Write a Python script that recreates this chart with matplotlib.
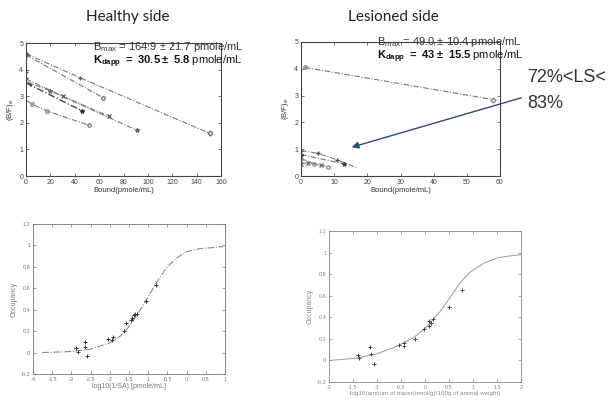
import matplotlib
matplotlib.use("Agg")
import matplotlib.pyplot as plt
import numpy as np

plt.rcParams["font.family"] = ["Liberation Sans", "DejaVu Sans"]
plt.rcParams["mathtext.fontset"] = "custom"
plt.rcParams["mathtext.rm"] = "Liberation Sans"
plt.rcParams["mathtext.bf"] = "Liberation Sans:bold"

# ===================== data =====================
# healthy side, Scatchard lines (bound, B/F)
h_a_x = [0, 44, 151]
h_a_y = [4.6, 3.7, 1.6]
h_b_x = [0, 2, 63]
h_b_y = [4.55, 4.5, 2.95]
h_c_x = [0, 20, 91]
h_c_y = [3.55, 3.2, 1.72]
h_d_x = [0, 30, 68]
h_d_y = [3.65, 3.0, 2.25]
h_e_x = [0, 46]
h_e_y = [3.5, 2.45]
h_f_x = [0, 5, 17, 52]
h_f_y = [2.85, 2.7, 2.45, 1.9]
h_pts_x = [0, 0, 3, 1]
h_pts_y = [3.9, 3.7, 3.45, 4.6]

# lesioned side, Scatchard lines
l_a_x = [1.2, 58]
l_a_y = [4.05, 2.85]
l_b_x = [0, 5, 11, 17]
l_b_y = [0.95, 0.85, 0.6, 0.3]
l_c_x = [0, 13]
l_c_y = [0.8, 0.45]
l_d_x = [0, 4, 8]
l_d_y = [0.65, 0.45, 0.35]
l_e_x = [0, 2, 6]
l_e_y = [0.45, 0.5, 0.4]

# occupancy, healthy side
occ_h_x = [-2.89, -2.83, -2.65, -2.64, -2.59, -2.05, -1.94, -1.92, -1.64,
           -1.57, -1.44, -1.41, -1.38, -1.35, -1.29, -1.05, -0.79]
occ_h_y = [0.04, 0.01, 0.10, 0.05, -0.03, 0.13, 0.12, 0.15, 0.20,
           0.28, 0.30, 0.32, 0.35, 0.36, 0.36, 0.48, 0.63]
fit_h_x = [-3.76, -3.0, -2.52, -2.0, -1.74, -1.53, -1.31, -1.05, -0.79,
           -0.53, -0.27, -0.01, 0.34, 0.69, 0.95]
fit_h_y = [0.0, 0.01, 0.03, 0.09, 0.15, 0.23, 0.34, 0.49, 0.65,
           0.79, 0.88, 0.94, 0.97, 0.98, 0.99]

# occupancy, lesioned side
occ_l_x = [-1.39, -1.38, -1.15, -1.13, -1.06, -0.54, -0.44, -0.44, -0.21,
           -0.03, 0.09, 0.09, 0.12, 0.17, 0.51, 0.78]
occ_l_y = [0.05, 0.02, 0.12, 0.06, -0.03, 0.14, 0.16, 0.13, 0.20,
           0.29, 0.32, 0.37, 0.35, 0.38, 0.50, 0.65]
fit_l_x = [-2.0, -1.43, -1.01, -0.59, -0.24, 0.03, 0.31, 0.52, 0.73,
           0.94, 1.22, 1.50, 1.78, 2.0]
fit_l_y = [0.0, 0.02, 0.06, 0.13, 0.21, 0.31, 0.45, 0.58, 0.72,
           0.82, 0.90, 0.95, 0.97, 0.98]
# ======================================================================

W, H = 612, 404
fig = plt.figure(figsize=(W / 100, H / 100), dpi=100)


def px_axes(left, right, top, bottom):
    return fig.add_axes([left / W, (H - bottom) / H, (right - left) / W, (bottom - top) / H])


def style(ax, lw=0.8, col="#444444", fs=5):
    for s in ax.spines.values():
        s.set_linewidth(lw)
        s.set_color(col)
    ax.tick_params(direction="in", length=2, width=0.5, colors=col,
                   labelsize=fs, top=True, right=True, pad=2)


line_kw = dict(color="#777777", lw=0.8, dashes=(5, 1.5, 1, 1.5))

# ---- top-left: healthy side Scatchard
ax1 = px_axes(26, 221, 43, 176)
ax1.plot(h_a_x, h_a_y, **line_kw)
ax1.plot(h_a_x[-1:], h_a_y[-1:], "D", mfc="none", mec="#777", ms=2.5)
ax1.plot(h_a_x[1:2], h_a_y[1:2], "+", color="#555", ms=3)
ax1.plot(h_b_x, h_b_y, **line_kw)
ax1.plot(h_b_x[::2], h_b_y[::2], "o", mfc="none", mec="#777", ms=2.5)
ax1.plot(h_c_x, h_c_y, **line_kw)
ax1.plot(h_c_x[1:], h_c_y[1:], "*", color="#666", ms=3)
ax1.plot(h_d_x, h_d_y, **line_kw)
ax1.plot(h_d_x[1:], h_d_y[1:], "x", color="#666", ms=2.5)
ax1.plot(h_e_x, h_e_y, color="#444", lw=1.0, dashes=(5, 1.5, 1, 1.5))
ax1.plot(h_e_x[-1:], h_e_y[-1:], "*", color="#333", ms=3)
ax1.plot(h_f_x, h_f_y, **line_kw)
ax1.plot(h_f_x[1:], h_f_y[1:], "o", mfc="none", mec="#888", ms=2.5)
ax1.plot(h_pts_x, h_pts_y, "+", color="#555", ms=3)
ax1.set_xlim(0, 160)
ax1.set_ylim(0, 5)
ax1.set_xticks(range(0, 161, 20))
ax1.set_yticks(range(0, 6))
style(ax1)
ax1.set_xlabel("Bound(pmole/mL)", fontsize=5.5, color="#333", labelpad=1)
ax1.set_ylabel("(B/F)$_e$", fontsize=5.5, color="#333", labelpad=2)

# ---- top-right: lesioned side Scatchard
ax2 = px_axes(301, 500, 42, 176)
ax2.plot(l_a_x, l_a_y, **line_kw)
ax2.plot(l_a_x[:1], l_a_y[:1], "o", mfc="none", mec="#888", ms=2.5)
ax2.plot(l_a_x[-1:], l_a_y[-1:], "D", mfc="none", mec="#888", ms=2.5)
ax2.plot(l_b_x, l_b_y, **line_kw)
ax2.plot(l_b_x[:3], l_b_y[:3], "+", color="#444", ms=3)
ax2.plot(l_c_x, l_c_y, **line_kw)
ax2.plot(l_c_x, l_c_y, "*", color="#444", ms=3)
ax2.plot(l_d_x, l_d_y, **line_kw)
ax2.plot(l_d_x, l_d_y, "o", mfc="none", mec="#999", ms=2.5)
ax2.plot(l_e_x, l_e_y, **line_kw)
ax2.plot(l_e_x, l_e_y, "x", color="#777", ms=2.5)
ax2.set_xlim(0, 60)
ax2.set_ylim(0, 5)
ax2.set_xticks(range(0, 61, 10))
ax2.set_yticks(range(0, 6))
style(ax2)
ax2.set_xlabel("Bound(pmole/mL)", fontsize=5.5, color="#333", labelpad=1)
ax2.set_ylabel("(B/F)$_e$", fontsize=5.5, color="#333", labelpad=2)

# ---- bottom-left: occupancy healthy
ax3 = px_axes(33, 225, 224, 374)
ax3.plot(fit_h_x, fit_h_y, color="#888", lw=0.8, dashes=(6, 1.5, 1, 1.5))
ax3.plot(occ_h_x, occ_h_y, "+", color="#333", ms=3, mew=0.7)
ax3.set_xlim(-4, 1)
ax3.set_ylim(-0.2, 1.2)
ax3.set_xticks(np.arange(-4, 1.01, 0.5))
ax3.set_xticklabels(["-4", "-3.5", "-3", "-2.5", "-2", "-1.5", "-1", "-0.5", "0", "0.5", "1"])
ax3.set_yticks(np.arange(-0.2, 1.21, 0.2))
ax3.set_yticklabels(["-0.2", "0", "0.2", "0.4", "0.6", "0.8", "1", "1.2"])
style(ax3, lw=0.6, col="#777777", fs=4)
ax3.set_xlabel("log10(1/SA) [pmole/mL]", fontsize=5, color="#777", labelpad=1)
ax3.set_ylabel("Occupancy", fontsize=5, color="#777", labelpad=2)

# ---- bottom-right: occupancy lesioned
ax4 = px_axes(329, 521, 231, 382)
ax4.plot(fit_l_x, fit_l_y, color="#999", lw=0.7)
ax4.plot(occ_l_x, occ_l_y, "+", color="#444", ms=3, mew=0.7)
ax4.set_xlim(-2, 2)
ax4.set_ylim(-0.2, 1.2)
ax4.set_xticks(np.arange(-2, 2.01, 0.5))
ax4.set_xticklabels(["-2", "-1.5", "-1", "-0.5", "0", "0.5", "1", "1.5", "2"])
ax4.set_yticks(np.arange(-0.2, 1.21, 0.2))
ax4.set_yticklabels(["-0.2", "0", "0.2", "0.4", "0.6", "0.8", "1", "1.2"])
style(ax4, lw=0.6, col="#888888", fs=4)
ax4.set_xlabel("log10(amount of tracer(nmol/g)/100g of animal weight)",
               fontsize=4.5, color="#888", labelpad=1)
ax4.set_ylabel("Occupancy", fontsize=5, color="#888", labelpad=2)

# ---- titles and annotations
fig.text(128 / W, 1 - 17 / H, "Healthy side", fontsize=11, family=["Lato", "DejaVu Sans"],
         ha="center", va="center", color="#222")
fig.text(393 / W, 1 - 17 / H, "Lesioned side", fontsize=11, family=["Lato", "DejaVu Sans"],
         ha="center", va="center", color="#222")

fig.text(93 / W, 1 - 47 / H, r"B$_{\rm max}$ = 164.9 ± 21.7 pmole/mL",
         fontsize=8, color="#333", va="center")
fig.text(93 / W, 1 - 62 / H, r"$\mathbf{K_{dapp}}$ $\mathbf{=\ 30.5\pm\ 5.8}$ pmole/mL",
         fontsize=8, color="#111", va="center")
fig.text(377 / W, 1 - 42 / H, r"B$_{\rm max}$ = 49.0 ± 10.4 pmole/mL",
         fontsize=8, color="#333", va="center")
fig.text(377 / W, 1 - 57 / H, r"$\mathbf{K_{dapp}}$ $\mathbf{=\ 43\pm\ 15.5}$ pmole/mL",
         fontsize=8, color="#111", va="center")

fig.text(527 / W, 1 - 78 / H, "72%<LS<", fontsize=13, color="#333", va="center")
fig.text(527 / W, 1 - 103 / H, "83%", fontsize=13, color="#333", va="center")
fig.add_artist(matplotlib.patches.FancyArrowPatch(
    (524 / W, 1 - 97 / H), (349 / W, 1 - 148 / H), transform=fig.transFigure,
    arrowstyle="-|>,head_length=4,head_width=2", color="#2c4a78", lw=1.0))

fig.savefig("out.png", dpi=100)
